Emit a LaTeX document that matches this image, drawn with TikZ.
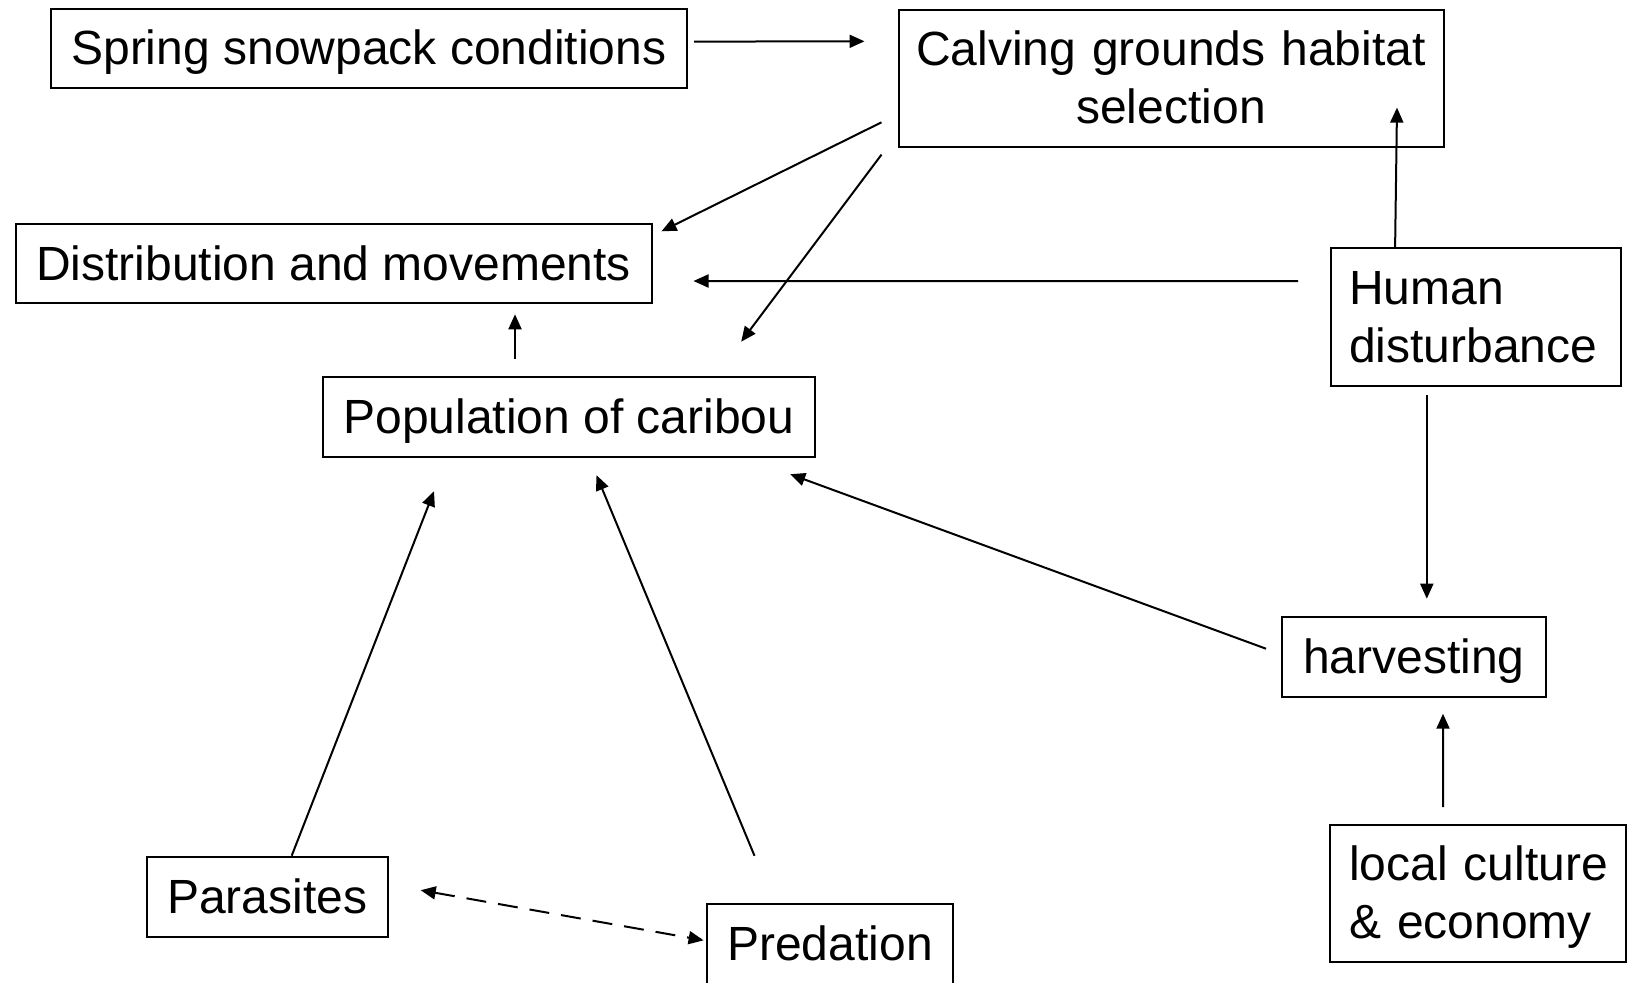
\documentclass[tikz,border=0pt]{standalone}
\usepackage{fontspec}
\setmainfont{Liberation Sans}
\usetikzlibrary{arrows.meta,calc}
\newcommand{\boxstrut}{\rule[-0.22em]{0pt}{1.12em}}

\begin{document}
\begin{tikzpicture}[x=0.5pt,y=-0.5pt]
    \tikzstyle{box}=[draw=black, line width=1pt, inner sep=0pt, font=\fontsize{24pt}{29.2pt}\selectfont]
    \tikzstyle{link}=[black, line width=1pt, -{Triangle[length=7.5pt,width=6.5pt]}]
    \tikzstyle{twoway}=[black, line width=1pt, dash pattern=on 10pt off 6pt, {Triangle[length=7.5pt,width=6.5pt]}-{Triangle[length=7.5pt,width=6.5pt]}]
    \useasboundingbox (0,0) rectangle (1627,982);
    \node [box, minimum width=318.2pt, minimum height=39.6pt] (spring) at (368.8,48.6) {\boxstrut Spring snowpack conditions};
    \node [box, minimum width=272.5pt, minimum height=68.3pt, text width=272.5pt, align=center] (calving) at (1171,78.3) {\boxstrut Calving grounds habitat\\\boxstrut selection};
    \node [box, minimum width=318pt, minimum height=39.5pt] (distrib) at (333.5,263.8) {\boxstrut Distribution and movements};
    \node [box, minimum width=246.2pt, minimum height=40pt] (pop) at (569,416.7) {\boxstrut Population of caribou};
    \node [box, minimum height=69pt, inner xsep=9pt, text width=126.7pt, align=left] (human) at (1475.8,317) {\boxstrut Human\\\boxstrut disturbance};
    \node [box, minimum height=68.3pt, inner xsep=9.5pt, text width=129pt, align=left] (local) at (1478,893.4) {\boxstrut\mbox{local culture}\\\boxstrut\mbox{\& economy}};
    \node [box, minimum width=131.8pt, minimum height=40pt] (harvest) at (1413.8,656.7) {\boxstrut harvesting};
    \node [box, minimum width=120.5pt, minimum height=40pt] (parasites) at (267.2,896.7) {\boxstrut Parasites};
    \node [box, minimum width=123.4pt, minimum height=40pt] (predation) at (830,944.3) {\boxstrut Predation};
    \draw [link] ($(spring.east)+(6,-7)$) -- ($(calving.west)+(-33,-37)$);
    \draw [link] ($(calving.west)+(-16,44)$) -- ($(distrib.north east)+(9,8)$);
    \draw [link] ($(calving.south west)+(-16,7)$) -- ($(pop.north east)+(-75,-34)$);
    \draw [link] ($(human.west)+(-32,-36)$) -- ($(distrib.east)+(41,17.2)$);
    \draw [link] ($(human.north west)+(65,0)$) -- ($(calving.south east)+(-47.5,-40)$);
    \draw [link] ($(pop.north)+(-54,-17)$) -- ($(distrib.south)+(181.5,10)$);
    \draw [link] ($(human.south)+(-49,8)$) -- ($(harvest.north)+(13,-17)$);
    \draw [link] ($(harvest.west)+(-15,-8)$) -- ($(pop.south east)+(-26,16.5)$);
    \draw [link] ($(local.north)+(-35,-17)$) -- ($(harvest.south)+(29.2,16)$);
    \draw [link] ($(parasites.north)+(24.5,0)$) -- ($(pop.south)+(-135,33.5)$);
    \draw [link] ($(predation.north)+(-75.5,-47.5)$) -- ($(pop.south)+(27.5,17.5)$);
    \draw [twoway] ($(parasites.east)+(32,-6.5)$) -- ($(predation.west)+(-2,-4)$);
\end{tikzpicture}
\end{document}
